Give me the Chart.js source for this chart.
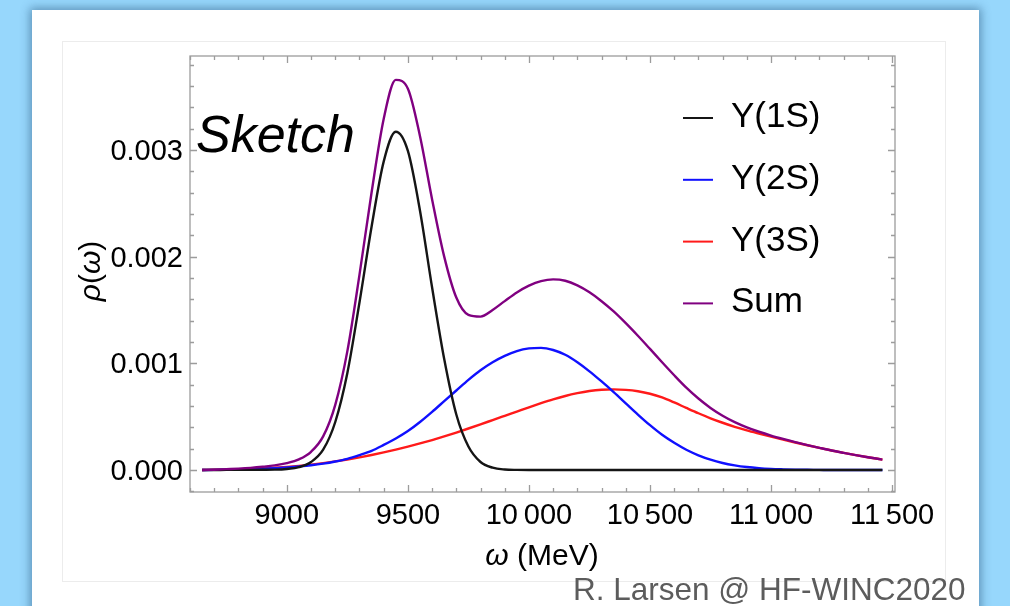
<!DOCTYPE html>
<html><head><meta charset="utf-8">
<script src="https://cdn.jsdelivr.net/npm/chart.js@4.4.0/dist/chart.umd.min.js"></script>
<style>
html,body{margin:0;padding:0;width:1010px;height:606px;overflow:hidden;background:#97d7fc;}
#panel{position:absolute;left:32px;top:10px;width:947px;height:640px;background:#fff;box-shadow:0 0 9px 2px rgba(20,60,100,0.45);}
#inner{position:absolute;left:62px;top:41px;width:884px;height:541px;border:1px solid #ececec;box-sizing:border-box;}
#wrap{position:absolute;left:0;top:0;width:1010px;height:606px;}
#credit{position:absolute;left:573px;top:574px;font:31.5px "Liberation Sans",Arial,sans-serif;color:#5c5c5c;line-height:31px;white-space:nowrap;}
</style></head><body>
<div id="panel"></div><div id="inner"></div>
<div id="wrap"><canvas id="c"></canvas></div>
<div id="credit">R. Larsen @ HF-WINC2020</div>
<script>
// omega grid (MeV)
const omega = [8650,8700,8750,8800,8850,8900,8950,9000,9050,9100,9150,9200,9250,9300,9350,9400,9450,9500,9550,9600,9650,9700,9750,9800,9850,9900,9950,10000,10050,10100,10150,10200,10250,10300,10350,10400,10450,10500,10550,10600,10650,10700,10750,10800,10850,10900,10950,11000,11050,11100,11150,11200,11250,11300,11350,11400,11460];
// spectral functions rho(omega), in units of 1e-3
const rho1S = [0,0,0.001,0.001,0.002,0.003,0.004,0.01,0.027,0.075,0.19,0.45,0.91,1.57,2.28,2.89,3.17,2.99,2.43,1.71,1.04,0.52,0.22,0.075,0.022,0.005,0.001,0,0,0,0,0,0,0,0,0,0,0,0,0,0,0,0,0,0,0,0,0,0,0,0,0,0,0,0,0,0];
const rho2S = [0,0.001,0.003,0.005,0.008,0.012,0.018,0.025,0.034,0.045,0.06,0.08,0.105,0.14,0.18,0.235,0.295,0.365,0.45,0.545,0.645,0.745,0.845,0.935,1.01,1.07,1.115,1.14,1.145,1.125,1.08,1.01,0.925,0.83,0.73,0.625,0.52,0.42,0.33,0.255,0.19,0.138,0.097,0.066,0.044,0.028,0.017,0.01,0.006,0.003,0.002,0.001,0,0,0,0,0];
const rho3S = [0,0.002,0.004,0.007,0.01,0.015,0.021,0.029,0.039,0.051,0.065,0.081,0.099,0.119,0.141,0.165,0.191,0.219,0.249,0.281,0.315,0.351,0.389,0.428,0.468,0.508,0.548,0.588,0.626,0.662,0.694,0.72,0.74,0.752,0.756,0.751,0.738,0.715,0.68,0.633,0.582,0.532,0.485,0.443,0.405,0.372,0.342,0.313,0.285,0.258,0.232,0.207,0.183,0.161,0.14,0.12,0.098];
const rhoSum = [0,0.003,0.008,0.013,0.02,0.03,0.043,0.064,0.10,0.171,0.315,0.611,1.114,1.829,2.601,3.29,3.656,3.574,3.129,2.536,2.0,1.616,1.454,1.438,1.50,1.583,1.664,1.728,1.771,1.787,1.774,1.73,1.665,1.582,1.486,1.376,1.258,1.135,1.01,0.888,0.772,0.67,0.582,0.509,0.449,0.40,0.359,0.323,0.291,0.261,0.234,0.208,0.183,0.161,0.14,0.12,0.098];
const UNIT = 1e-3;
const seriesLabels = ['\u03A5(1S)','\u03A5(2S)','\u03A5(3S)','Sum'];
const seriesColors = ['#151515','#1010ff','#ff1a1a','#800080'];
const seriesData = [rho1S, rho2S, rho3S, rhoSum];
const xTickValues = [9000,9500,10000,10500,11000,11500];
const yTickValues = [0,0.001,0.002,0.003];
const xMinorStep = 100, yMinorStep = 0.0002;

const FONT = '"Liberation Sans", Arial, Helvetica, sans-serif';

const frame = {
  id:'frame',
  beforeDatasetsDraw(chart){
    const {ctx, chartArea:a, scales:{x,y}} = chart;
    ctx.save();
    ctx.strokeStyle = '#9c9c9c'; ctx.lineWidth = 1.3;
    ctx.strokeRect(a.left, a.top, a.right-a.left, a.bottom-a.top);
    ctx.beginPath();
    for (let k = Math.ceil(x.min/xMinorStep); k*xMinorStep <= x.max; k++){
      const v = k*xMinorStep, px = Math.round(x.getPixelForValue(v))+0.5;
      const L = xTickValues.includes(v) ? 7 : 4;
      ctx.moveTo(px, a.bottom); ctx.lineTo(px, a.bottom-L);
      ctx.moveTo(px, a.top); ctx.lineTo(px, a.top+L);
    }
    for (let k = Math.ceil(y.min/yMinorStep - 1e-9); k*yMinorStep <= y.max + 1e-12; k++){
      const v = k*yMinorStep, py = Math.round(y.getPixelForValue(v))+0.5;
      const L = (k % 5 === 0) ? 7 : 4;
      ctx.moveTo(a.left, py); ctx.lineTo(a.left+L, py);
      ctx.moveTo(a.right, py); ctx.lineTo(a.right-L, py);
    }
    ctx.stroke();
    ctx.restore();
  }
};

function drawMixed(ctx, parts, cx, baseline, size){
  let w = 0;
  parts.forEach(p => { ctx.font = (p[1]?'italic ':'') + size + 'px ' + FONT; w += ctx.measureText(p[0]).width; });
  let x = cx - w/2;
  ctx.textAlign = 'left'; ctx.textBaseline = 'alphabetic';
  parts.forEach(p => { ctx.font = (p[1]?'italic ':'') + size + 'px ' + FONT; ctx.fillText(p[0], x, baseline); x += ctx.measureText(p[0]).width; });
}

const annotations = {
  id:'annotations',
  afterDraw(chart){
    const {ctx} = chart;
    ctx.save();
    ctx.fillStyle = '#000';
    drawMixed(ctx, [['\u03C9',true],[' (MeV)',false]], 542, 565, 30);
    ctx.save();
    ctx.translate(100, 271); ctx.rotate(-Math.PI/2);
    drawMixed(ctx, [['\u03C1',true],['(',false],['\u03C9',true],[')',false]], 0, 0, 30);
    ctx.restore();
    ctx.font = 'italic 52px ' + FONT; ctx.textAlign='left'; ctx.textBaseline='alphabetic';
    ctx.fillText('Sketch', 196, 152);
    chart.data.datasets.forEach((ds, i) => {
      const ly = 118 + i*61.8;
      ctx.strokeStyle = ds.borderColor; ctx.lineWidth = 2;
      ctx.beginPath(); ctx.moveTo(683, ly); ctx.lineTo(713, ly); ctx.stroke();
      ctx.fillStyle = '#000'; ctx.font = '35px ' + FONT;
      ctx.fillText(ds.label, 731, ly + 9);
    });
    ctx.restore();
  }
};

const datasets = seriesData.map((arr, i) => ({
  label: seriesLabels[i],
  data: omega.map((w, j) => ({x: w, y: arr[j]*UNIT})),
  borderColor: seriesColors[i],
  borderWidth: 2.4,
  pointRadius: 0,
  fill: false,
  cubicInterpolationMode: 'monotone',
  order: i === 3 ? -1 : i
}));

new Chart(document.getElementById('c'), {
  type: 'line',
  data: { datasets },
  options: {
    responsive: true, maintainAspectRatio: false, animation: false,
    layout: { padding: { left: 62, top: 56, right: 115, bottom: 14 } },
    plugins: { legend: { display: false }, tooltip: { enabled: false } },
    scales: {
      x: {
        type: 'linear', min: 8600, max: 11512,
        grid: { display: false, drawTicks: false },
        border: { display: false },
        afterBuildTicks: s => { s.ticks = xTickValues.map(v => ({value: v})); },
        ticks: {
          padding: 7, color: '#000',
          font: { family: FONT, size: 29 }, maxRotation: 0, autoSkip: false,
          callback: v => v >= 10000 ? String(Math.floor(v/1000)) + '\u2009' + String(v%1000).padStart(3,'0') : String(v)
        },
        afterFit: s => { s.height = 100; }
      },
      y: {
        type: 'linear', min: -0.000206, max: 0.00388,
        grid: { display: false, drawTicks: false },
        border: { display: false },
        afterBuildTicks: s => { s.ticks = yTickValues.map(v => ({value: v})); },
        ticks: {
          padding: 7, color: '#000', labelOffset: 2,
          font: { family: FONT, size: 29 },
          callback: v => v.toFixed(3)
        },
        afterFit: s => { s.width = 128; }
      }
    }
  },
  plugins: [frame, annotations]
});
</script>
</body></html>
